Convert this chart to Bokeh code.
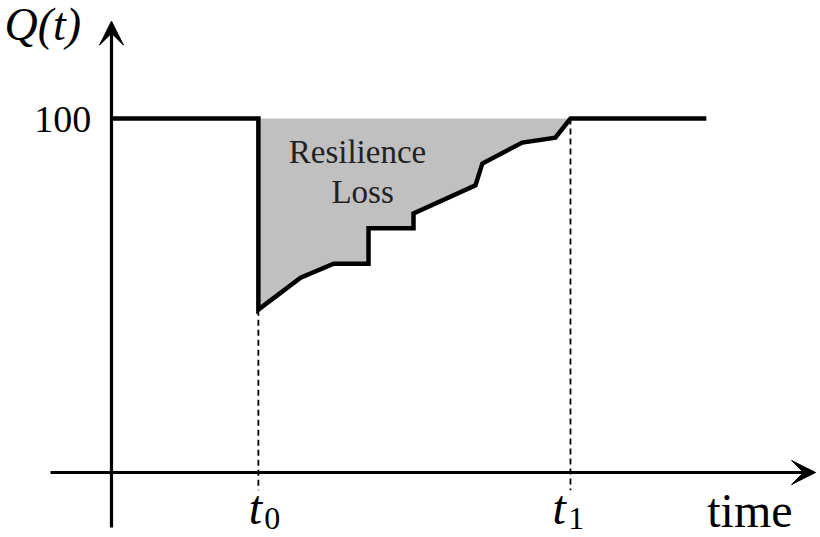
from bokeh.plotting import figure
from bokeh.models import Range1d, Arrow, VeeHead
from bokeh.core.properties import value
from bokeh.embed import file_html
from bokeh.resources import INLINE

# Performance curve Q(t): nominal level, sudden drop at t0, stepwise recovery to t1
t_curve = [0, 32, 32, 41.2, 48.4, 56.0, 56.0, 65.8, 65.8, 79.3, 80.8, 89.5, 96.7, 100, 129.6]
q_curve = [100, 100, 46, 55, 59, 59, 69, 69, 73.2, 81.1, 87.3, 93.2, 94.6, 100, 100]

t0 = 32
t1 = 100
q_nominal = 100
tick_label = "100"
loss_text = ["Resilience", "Loss"]

SERIF = value("'Liberation Serif', 'Times New Roman', Times, serif")
PX_PER_Q = 3.54  # vertical screen pixels per unit of Q

p = figure(width=820, height=537, output_backend="svg", toolbar_location=None,
           x_range=Range1d(-24.18, 154.47), y_range=Range1d(-18.36, 133.33),
           min_border=0, min_border_left=0, min_border_right=0,
           min_border_top=0, min_border_bottom=0)
p.axis.visible = False
p.grid.visible = False
p.outline_line_color = None
p.background_fill_color = "white"
p.border_fill_color = "white"

# shaded resilience-loss region between nominal level and the curve
i0 = t_curve.index(t0)
i1 = len(t_curve) - 1 - t_curve[::-1].index(t1)
p.patch(t_curve[i0:i1 + 1], q_curve[i0:i1 + 1], fill_color="#c0c0c0", line_color=None)

# dashed markers at t0 and t1
p.segment(x0=[t0, t1], y0=[q_curve[i0 + 1], q_curve[i1]], x1=[t0, t1], y1=[-5, -5],
          line_color="black", line_width=1.8, line_dash="6 4")

# axes with arrow heads
p.add_layout(Arrow(end=VeeHead(size=24, fill_color="black", line_color="black", line_width=1),
                   x_start=-13.3, y_start=0, x_end=153.4, y_end=0,
                   line_color="black", line_width=3.2))
p.add_layout(Arrow(end=VeeHead(size=24, fill_color="black", line_color="black", line_width=1),
                   x_start=0, y_start=-15.5, x_end=0, y_end=127.5,
                   line_color="black", line_width=3.2))

# the performance curve
p.line(t_curve, q_curve, line_color="black", line_width=4.5, line_join="miter")


def put(x, y, txt, size, align="left", style="normal", color="black"):
    # y is the wanted baseline; lift by the renderer's baseline offset
    y_adj = y + 0.34 * size / PX_PER_Q
    p.text(x=[x], y=[y_adj], text=[txt], text_font=SERIF, text_font_size=f"{size}px",
           text_font_style=style, text_align=align, text_baseline="alphabetic",
           text_color=color)


put(-23.3, 122.0, "Q(t)", 46, style="italic")
put(-4.4, q_nominal - 4.0, tick_label, 38, align="right")
put(53.6, 87.3, loss_text[0], 33, align="center", color="#222222")
put(54.7, 76.0, loss_text[1], 33, align="center", color="#222222")

# time markers t0 and t1 with subscripts
put(t0 - 2.1, -14.4, "t", 48, style="italic")
put(t0 + 1.3, -16.2, "0", 32)
put(t1 - 3.9, -14.4, "t", 48, style="italic")
put(t1 - 0.5, -16.2, "1", 32)

put(129.8, -15.4, "time", 48)

open("out.html", "w").write(file_html(p, INLINE))
